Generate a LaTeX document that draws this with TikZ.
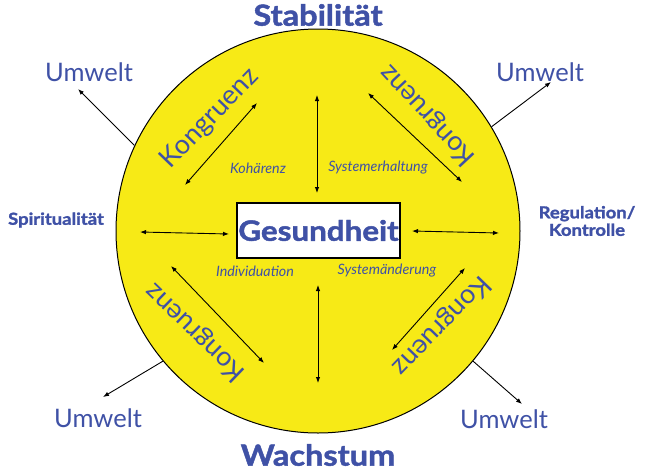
\documentclass[tikz,border=0pt]{standalone}
\usepackage{fontspec}
\setmainfont{Lato}
\newfontface\heavyfont{Lato Bold}[FakeBold=1.6,FakeStretch=1.12]
\usetikzlibrary{arrows.meta}
\definecolor{textblue}{RGB}{63,81,166}
\definecolor{discyellow}{RGB}{247,234,22}
\begin{document}
\begin{tikzpicture}[x=1pt,y=-1pt]
\tikzstyle{title}=[text=textblue,font=\fontsize{29}{29}\heavyfont]
\tikzstyle{env}=[text=textblue,font=\fontsize{25.5}{25.5}\selectfont]
\tikzstyle{side}=[text=textblue,font=\fontsize{16.5}{17.5}\heavyfont,align=center]
\tikzstyle{cong}=[text=textblue,font=\fontsize{27}{27}\selectfont]
\tikzstyle{small}=[text=textblue,font=\fontsize{14.3}{14.3}\selectfont\itshape]
\tikzstyle{link}=[line width=0.9pt,{Latex[length=6pt,width=4.5pt]}-{Latex[length=6pt,width=4.5pt]}]
\tikzstyle{outlink}=[line width=0.9pt,-{Latex[length=6pt,width=4.5pt]}]

\useasboundingbox (0,0) rectangle (654,472);

\node[circle,draw,line width=1pt,fill=discyellow,minimum size=404pt,inner sep=0pt] (disc) at (318,231) {};

\node[draw,line width=1.2pt,fill=white,minimum width=163pt,minimum height=55pt,inner sep=0pt,
  text=textblue,font=\fontsize{28}{28}\heavyfont] (health) at (318.5,230.5) {Gesundheit};

\node[title] (stab) at (318,15) {Stabilität};
\node[title] (wachs) at (318,455) {Wachstum};
\node[side] (spirit) at (56,220) {Spiritualität};
\node[side] (regul) at (587,221) {Regulation/\\Kontrolle};

\node[small] (koh) at (258,168) {Kohärenz};
\node[small] (erhalt) at (378,168) {Systemerhaltung};
\node[small] (indiv) at (255,271) {Individuation};
\node[small] (aender) at (387,271) {Systemänderung};

\foreach \n/\px/\py/\tx/\ty/\ang in {nw/89/72/78/89/155, ne/540/72/551/82/31, sw/98/418/103/397/220, se/504/419/522/404/320}
{
  \node[env] (umwelt\n) at (\px,\py) {Umwelt};
  \coordinate (tip\n) at (\tx,\ty);
  \draw[outlink] (disc.\ang) -- (tip\n);
}

\foreach \n/\ax/\ay/\bx/\by in {n/317/95/317/193, s/318/285/318/383, w/140/232/229/234, e/412/231/499/233, nw/257/103/185/185, ne/368/93/462/182, sw/171/266/264/363, se/465/268/392/350}
{
  \coordinate (from\n) at (\ax,\ay);
  \coordinate (to\n) at (\bx,\by);
  \draw[link] (from\n) -- (to\n);
}

\foreach \n/\px/\py/\rot in {nw/210/119/46, ne/428/115/133, sw/196/332/136, se/441/325/226}
{
  \node[cong,rotate=\rot] (kongruenz\n) at (\px,\py) {Kongruenz};
}

\end{tikzpicture}
\end{document}
